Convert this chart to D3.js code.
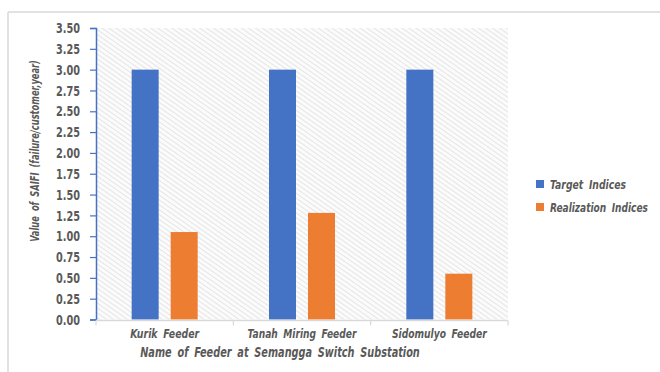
<!DOCTYPE html>
<html>
<head>
<meta charset="utf-8">
<script src="https://cdn.jsdelivr.net/npm/d3@7"></script>
<style>
  body { margin: 0; background: #fff; }
  svg text { font-family: "DejaVu Sans Condensed", "DejaVu Sans", sans-serif; font-weight: bold; fill: #595959; }
</style>
</head>
<body>
<svg id="chart" width="660" height="372"></svg>
<script>
// Dados do gráfico
const feeders = ['Kurik Feeder', 'Tanah Miring Feeder', 'Sidomulyo Feeder'];
const seriesNames = ['Target Indices', 'Realization Indices'];
const targetValues = [3.0, 3.0, 3.0];
const realizationValues = [1.05, 1.28, 0.55];
const yTicks = [0, 0.25, 0.5, 0.75, 1, 1.25, 1.5, 1.75, 2, 2.25, 2.5, 2.75, 3, 3.25, 3.5];
const cores = ['#4472C4', '#ED7D31'];

// larguras dos textos (a fonte original é bem estreita)
const largCat = [69, 109, 95];
const largLegenda = [76, 98];

const svg = d3.select('#chart');

// Texto estreitado: mede a largura natural e comprime na horizontal
function textoEstreito(pai, txt, x, y, larg, tam, ancora, rot) {
  let g = pai.append('g');
  let t = g.append('text')
    .attr('text-anchor', ancora)
    .style('font-size', tam + 'px')
    .style('font-style', 'italic')
    .style('word-spacing', '3px')
    .text(txt);
  let k = larg / t.node().getComputedTextLength();
  g.attr('transform', `translate(${x},${y}) rotate(${rot || 0}) scale(${k},1)`);
  return t;
}

// Moldura externa (só topo e esquerda aparecem)
svg.append('line').attr('x1', 8).attr('y1', 12).attr('x2', 660).attr('y2', 12)
  .attr('stroke', '#d9d9d9').attr('stroke-width', 1.5);
svg.append('line').attr('x1', 8).attr('y1', 12).attr('x2', 8).attr('y2', 372)
  .attr('stroke', '#d9d9d9').attr('stroke-width', 1.5);

// Área do gráfico
const esq = 96, dir = 508, topo = 28, base = 319.5;

const escalaY = d3.scaleLinear().domain([0, 3.5]).range([base, topo]);
const escalaX = d3.scaleBand().domain(feeders).range([esq, dir]).padding(0);
const largBar = 27, gap = 12;
const escalaSerie = d3.scaleBand().domain(seriesNames)
  .range([0, largBar * 2 + gap]).paddingInner(gap / (largBar + gap));

// Padrão hachurado do fundo
const defs = svg.append('defs');
const pat = defs.append('pattern')
  .attr('id', 'hachura')
  .attr('patternUnits', 'userSpaceOnUse')
  .attr('width', 4).attr('height', 4)
  .attr('patternTransform', 'rotate(35)');
pat.append('rect').attr('width', 4).attr('height', 4).attr('fill', '#fbfbfb');
pat.append('line').attr('x1', 0).attr('y1', 0).attr('x2', 4).attr('y2', 0)
  .attr('stroke', '#dcdcdc').attr('stroke-width', 1.4);

svg.append('rect')
  .attr('x', esq).attr('y', topo)
  .attr('width', dir - esq).attr('height', base - topo)
  .attr('fill', 'url(#hachura)');

// Barras
const linhas = feeders.map((f, i) => ({ feeder: f, valores: [targetValues[i], realizationValues[i]] }));
const offset = (escalaX.bandwidth() - (largBar * 2 + gap)) / 2;

const grupos = svg.selectAll('g.grupo')
  .data(linhas)
  .enter()
  .append('g')
  .attr('class', 'grupo')
  .attr('transform', d => `translate(${escalaX(d.feeder) + offset},0)`);

grupos.selectAll('rect')
  .data(d => d.valores.map((v, j) => ({ serie: seriesNames[j], valor: v, cor: cores[j] })))
  .enter()
  .append('rect')
  .attr('x', d => escalaSerie(d.serie))
  .attr('y', d => escalaY(d.valor))
  .attr('width', escalaSerie.bandwidth())
  .attr('height', d => escalaY(0) - escalaY(d.valor))
  .attr('fill', d => d.cor);

// Eixo Y
const eixoY = svg.append('g')
  .attr('transform', `translate(${esq},0)`)
  .call(d3.axisLeft(escalaY).tickValues(yTicks).tickFormat(d3.format('.2f')).tickSize(6).tickPadding(10));
eixoY.select('.domain').attr('stroke', '#4472C4').attr('stroke-width', 1.5);
eixoY.selectAll('.tick line').attr('stroke', '#4472C4').attr('stroke-width', 1.2);
eixoY.selectAll('.tick text')
  .style('font-size', '14.5px').style('font-family', '"DejaVu Sans Condensed", sans-serif')
  .style('font-weight', 'bold').attr('fill', '#595959')
  .attr('textLength', 24).attr('lengthAdjust', 'spacingAndGlyphs');

// Eixo X
const eixoX = svg.append('g')
  .attr('transform', `translate(0,${base + 1})`);
eixoX.append('line').attr('x1', esq).attr('x2', dir).attr('y1', 0).attr('y2', 0)
  .attr('stroke', '#d9d9d9').attr('stroke-width', 1.5);
const limites = feeders.map(f => escalaX(f)).concat([dir]);
eixoX.selectAll('line.div')
  .data(limites)
  .enter()
  .append('line')
  .attr('class', 'div')
  .attr('x1', d => d).attr('x2', d => d)
  .attr('y1', 0).attr('y2', 5)
  .attr('stroke', '#d9d9d9').attr('stroke-width', 1.2);

// Rótulos das categorias
feeders.forEach((f, i) => {
  textoEstreito(svg, f, escalaX(f) + escalaX.bandwidth() / 2, 338, largCat[i], 13, 'middle');
});

// Títulos dos eixos
textoEstreito(svg, 'Name of Feeder at Semangga Switch Substation', 280, 357, 280, 13.5, 'middle');
textoEstreito(svg, 'Value of SAIFI (failure/customer,year)', 39, 151, 182, 12.5, 'middle', -90);

// Legenda
seriesNames.forEach((nome, i) => {
  svg.append('rect').attr('x', 536).attr('y', 180 + i * 23).attr('width', 8).attr('height', 8).attr('fill', cores[i]);
  textoEstreito(svg, nome, 550, 188.5 + i * 23, largLegenda[i], 12.5, 'start');
});
</script>
</body>
</html>
